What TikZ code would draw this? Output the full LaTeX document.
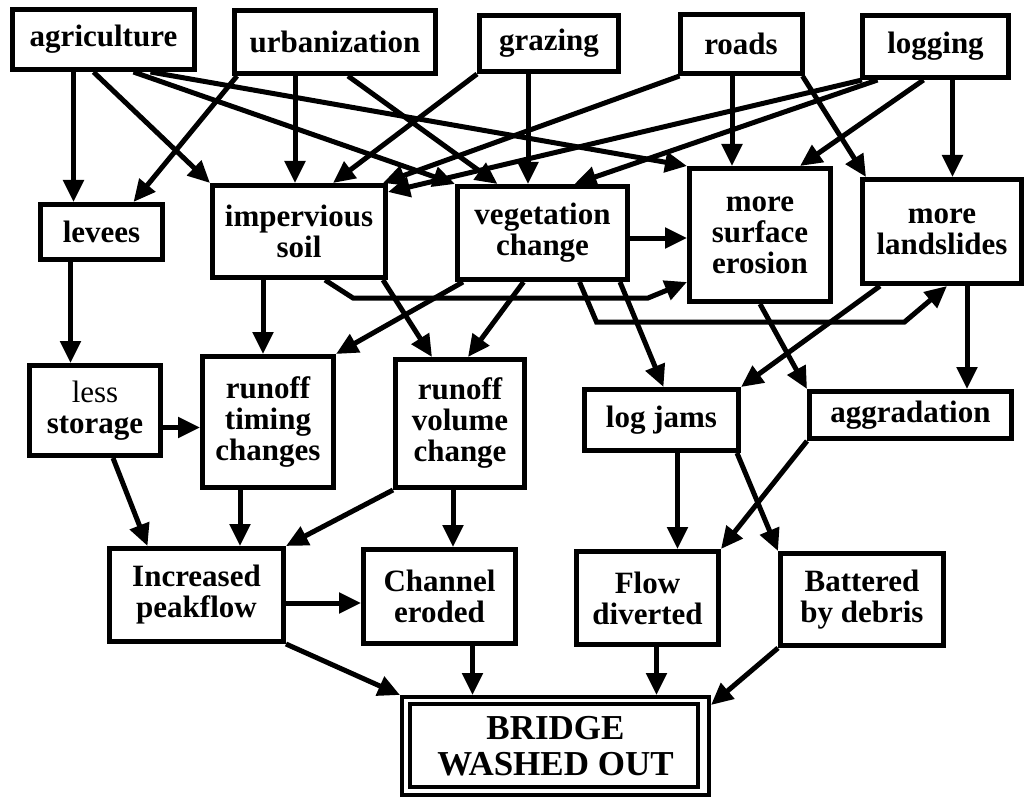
\documentclass[tikz,border=0pt]{standalone}
\usepackage{fontspec}
\setmainfont{Liberation Serif}
\usetikzlibrary{arrows.meta}
\begin{document}
\begin{tikzpicture}[x=1pt,y=-1pt,
  box/.style={draw, line width=5pt, inner sep=0pt, align=center, fill=white,
    font=\fontsize{31}{31}\selectfont\bfseries},
  conn/.style={line width=5pt, -{Triangle[length=22pt,width=20pt]}},
  frame2/.style={line width=4pt}]
\useasboundingbox (0,0) rectangle (1026,797);
% top row
\node[box, minimum width=182pt, minimum height=60pt] (agri) at (103.5,39.5) {agriculture};
\node[box, minimum width=201pt, minimum height=63pt] (urban) at (335,42) {urbanization};
\node[box, minimum width=139pt, minimum height=56pt] (grazing) at (549,43.5) {grazing};
\node[box, minimum width=122pt, minimum height=59pt] (roads) at (741,44) {roads};
\node[box, minimum width=146pt, minimum height=62pt] (logging) at (935.5,46.5) {logging};
% second row
\node[box, minimum width=122pt, minimum height=55pt] (levees) at (101.5,232) {levees};
\node[box, minimum width=173pt, minimum height=92pt] (imp) at (299,231.5) {impervious\\soil};
\node[box, minimum width=170pt, minimum height=93pt] (veg) at (542.5,233) {vegetation\\change};
\node[box, minimum width=141pt, minimum height=133pt] (erosion) at (760,235) {more\\surface\\erosion};
\node[box, minimum width=159pt, minimum height=104pt] (landslides) at (942,231.5) {more\\landslides};
% third row
\node[box, minimum width=131pt, minimum height=90pt] (storage) at (95,410.5) {{\mdseries less}\\storage};
\node[box, minimum width=131pt, minimum height=131pt] (timing) at (268,422) {runoff\\timing\\changes};
\node[box, minimum width=129pt, minimum height=128pt] (volume) at (460,423.5) {runoff\\volume\\change};
\node[box, minimum width=154pt, minimum height=61pt] (logjams) at (661.5,420) {log jams};
\node[box, minimum width=202pt, minimum height=47pt] (aggradation) at (910.5,415) {aggradation};
% fourth row
\node[box, minimum width=174pt, minimum height=93pt] (peakflow) at (196.5,595) {Increased\\peakflow};
\node[box, minimum width=152pt, minimum height=94pt] (channel) at (439.5,596.5) {Channel\\eroded};
\node[box, minimum width=142pt, minimum height=93pt] (flow) at (647.5,598) {Flow\\diverted};
\node[box, minimum width=163pt, minimum height=92pt] (battered) at (862,599.5) {Battered\\by debris};
% bridge
\node[box, line width=4pt, minimum width=307pt, minimum height=98pt,
  font=\fontsize{35}{36}\selectfont\bfseries] (bridge) at (555.5,746) {BRIDGE\\WASHED OUT};
\draw[frame2] ([xshift=10pt,yshift=-9pt]bridge.north west) rectangle ([xshift=-13pt,yshift=10pt]bridge.south east);
% connectors from top row
\draw[conn] ([xshift=-30pt]agri.south) -- ([xshift=-30pt]agri.south |- levees.north);
\draw[conn] ([xshift=-10pt]agri.south) -- (imp.north west);
\draw[conn] ([xshift=30pt]agri.south) -- (veg.north west);
\draw[conn] ([xshift=47pt]agri.south) -- (erosion.north west);
\draw[conn] ([xshift=5pt]urban.south west) -- ([xshift=32pt]levees.north);
\draw[conn] ([xshift=-40pt]urban.south) -- ([xshift=-40pt]urban.south |- imp.north);
\draw[conn] ([xshift=13pt]urban.south) -- ([xshift=-45pt]veg.north);
\draw[conn] (grazing.south west) -- ([xshift=34pt]imp.north);
\draw[conn] ([xshift=-21pt]grazing.south) -- ([xshift=-21pt]grazing.south |- veg.north);
\draw[conn] ([xshift=2pt]roads.south west) -- ([xshift=-5pt]imp.north east);
\draw[conn] ([xshift=-9pt]roads.south) -- ([xshift=-9pt]roads.south |- erosion.north);
\draw[conn] ([xshift=-2pt]roads.south east) -- ([xshift=6pt]landslides.north west);
\draw[conn] ([xshift=2pt]logging.south west) -- ([yshift=-9pt]imp.north east);
\draw[conn] ([xshift=-58pt]logging.south) -- ([xshift=32pt]veg.north);
\draw[conn] ([xshift=-12pt]logging.south) -- ([xshift=40pt]erosion.north);
\draw[conn] ([xshift=17pt]logging.south) -- ([xshift=17pt]logging.south |- landslides.north);
% from second row
\draw[conn] ([xshift=-31pt]levees.south) -- ([xshift=-31pt]levees.south |- storage.north);
\draw[conn] ([xshift=-36pt]imp.south) -- ([xshift=-36pt]imp.south |- timing.north);
\draw[conn] ([xshift=-5pt]imp.south east) -- ([xshift=-28pt]volume.north);
\draw[conn] ([xshift=26pt]imp.south) -- ++(28,18) -- ++(295,0) -- ([yshift=22pt]erosion.south west);
\draw[conn] ([xshift=8pt]veg.south west) -- (timing.north east);
\draw[conn] ([xshift=-19pt]veg.south) -- ([xshift=8pt]volume.north);
\draw[conn] ([yshift=-5pt]veg.east) -- ([yshift=-5pt]veg.east -| erosion.west);
\draw[conn] ([xshift=37pt]veg.south) -- ++(17,40) -- ++(308,0) -- ([xshift=5pt]landslides.south);
\draw[conn] ([xshift=-10pt]veg.south east) -- ([xshift=2pt]logjams.north);
\draw[conn] (erosion.south) -- (aggradation.north west);
\draw[conn] ([xshift=20pt]landslides.south west) -- (logjams.north east);
\draw[conn] ([xshift=25pt]landslides.south) -- ([xshift=25pt]landslides.south |- aggradation.north);
% from third row
\draw[conn] ([yshift=-17pt]storage.east) -- ([yshift=-17pt]storage.east -| timing.west);
\draw[conn] ([xshift=18pt]storage.south) -- ([xshift=-49pt]peakflow.north);
\draw[conn] ([xshift=-28pt]timing.south) -- ([xshift=-28pt]timing.south |- peakflow.north);
\draw[conn] (volume.south west) -- (peakflow.north east);
\draw[conn] ([xshift=-7pt]volume.south) -- ([xshift=-7pt]volume.south |- channel.north);
\draw[conn] ([xshift=16pt]logjams.south) -- ([xshift=16pt]logjams.south |- flow.north);
\draw[conn] ([xshift=-4pt]logjams.south east) -- (battered.north west);
\draw[conn] (aggradation.south west) -- (flow.north east);
% from fourth row
\draw[conn] ([yshift=-8pt]peakflow.east) -- ([yshift=-8pt]peakflow.east -| channel.west);
\draw[conn] (peakflow.south east) -- (bridge.north west);
\draw[conn] ([xshift=33pt]channel.south) -- ([xshift=33pt]channel.south |- bridge.north);
\draw[conn] ([xshift=9pt]flow.south) -- ([xshift=9pt]flow.south |- bridge.north);
\draw[conn] (battered.south west) -- ([yshift=-10pt]bridge.north east);
\end{tikzpicture}
\end{document}
